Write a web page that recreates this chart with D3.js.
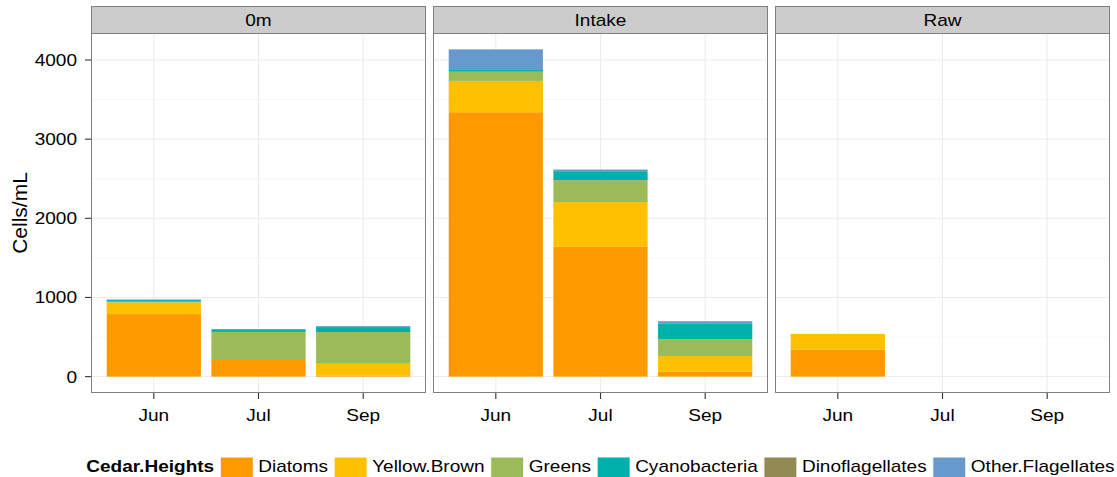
<!DOCTYPE html>
<html>
<head>
<meta charset="utf-8">
<script src="https://cdn.jsdelivr.net/npm/d3@7"></script>
<style>
  html, body { margin: 0; padding: 0; background: #fff; }
  svg { display: block; font-family: "Liberation Sans", Arial, Helvetica, sans-serif; }
</style>
</head>
<body>
<svg id="chart" width="1117" height="477"></svg>
<script>
// Sampling sites (facets), months (x categories) and plankton groups (stack order, bottom to top)
const sites = ["0m", "Intake", "Raw"];
const months = ["Jun", "Jul", "Sep"];
const groups = ["Diatoms", "Yellow.Brown", "Greens", "Cyanobacteria", "Dinoflagellates", "Other.Flagellates"];
const groupColors = ["#FF9900", "#FFC000", "#9BBB59", "#00B0AA", "#938953", "#6699CC"];

// Cells/mL per group; order is 0m Jun, Jul, Sep, Intake Jun, Jul, Sep, Raw Jun, Jul, Sep
const diatoms          = [790, 210,  15, 3340, 1640,  65, 340, 0, 0];
const yellowBrown      = [145,   0, 148,  395,  565, 195, 200, 0, 0];
const greens           = [ 12, 355, 400,  117,  277, 214,   0, 0, 0];
const cyanobacteria    = [ 20,  25,  63,   22,  113, 193,   0, 0, 0];
const dinoflagellates  = [  0,   0,   0,    0,    0,   0,   0, 0, 0];
const otherFlagellates = [  8,  12,  12,  260,   21,  33,   0, 0, 0];

const yTicks = [0, 1000, 2000, 3000, 4000];
const yMinor = [500, 1500, 2500, 3500];

const seriesValues = [diatoms, yellowBrown, greens, cyanobacteria, dinoflagellates, otherFlagellates];

// one row per site/month
const rows = [];
sites.forEach((s, si) => months.forEach((m, mi) => {
  const row = { site: s, month: m };
  groups.forEach((g, gi) => { row[g] = seriesValues[gi][si * 3 + mi]; });
  rows.push(row);
}));

const svg = d3.select("#chart");
const W = 1117;
const SX = 1.12;   // horizontal text stretch
const FONT = 17;

const panelLeft = 91, panelW = 335, panelGap = 7;
const stripTop = 6, stripH = 27, panelTop = 33, panelBottom = 393;

const stack = d3.stack().keys(groups);
const maxTotal = d3.max(rows, r => d3.sum(groups, g => r[g]));
const pad = maxTotal * 0.05;
const y = d3.scaleLinear().domain([-pad, maxTotal + pad]).range([panelBottom, panelTop]);

function putText(sel, x, yy) {
  return sel.attr("transform", `translate(${x},${yy}) scale(${SX},1)`);
}

sites.forEach((site, si) => {
  const x0 = panelLeft + si * (panelW + panelGap);
  const x = d3.scaleBand().domain(months).range([x0, x0 + panelW])
    .paddingInner(0.1).paddingOuter(0.15);
  const g = svg.append("g");

  // panel background
  g.append("rect").attr("x", x0).attr("y", panelTop).attr("width", panelW)
    .attr("height", panelBottom - panelTop).attr("fill", "#fff");

  // grid lines
  g.selectAll(".minor").data(yMinor).join("line")
    .attr("x1", x0).attr("x2", x0 + panelW)
    .attr("y1", d => y(d)).attr("y2", d => y(d))
    .attr("stroke", "#F7F7F7").attr("stroke-width", 1);
  g.selectAll(".major").data(yTicks).join("line")
    .attr("x1", x0).attr("x2", x0 + panelW)
    .attr("y1", d => y(d)).attr("y2", d => y(d))
    .attr("stroke", "#EBEBEB").attr("stroke-width", 1);
  g.selectAll(".vmajor").data(months).join("line")
    .attr("x1", d => x(d) + x.bandwidth() / 2).attr("x2", d => x(d) + x.bandwidth() / 2)
    .attr("y1", panelTop).attr("y2", panelBottom)
    .attr("stroke", "#EBEBEB").attr("stroke-width", 1);

  // stacked bars
  const siteRows = rows.filter(r => r.site === site);
  const layers = stack(siteRows);
  layers.forEach((layer, li) => {
    g.append("g").attr("fill", groupColors[li])
      .selectAll("rect").data(layer).join("rect")
      .attr("x", d => x(d.data.month))
      .attr("width", x.bandwidth())
      .attr("y", d => y(d[1]))
      .attr("height", d => Math.max(0, y(d[0]) - y(d[1])));
  });

  // panel border
  g.append("rect").attr("x", x0 + 0.5).attr("y", panelTop + 0.5).attr("width", panelW - 1)
    .attr("height", panelBottom - panelTop - 1).attr("fill", "none")
    .attr("stroke", "#7F7F7F").attr("stroke-width", 1);

  // strip
  g.append("rect").attr("x", x0 + 0.5).attr("y", stripTop + 0.5).attr("width", panelW - 1)
    .attr("height", stripH).attr("fill", "#CCCCCC").attr("stroke", "#7F7F7F");
  putText(g.append("text"), x0 + panelW / 2, stripTop + 20)
    .attr("text-anchor", "middle").attr("font-size", FONT).attr("fill", "#000").text(site);

  // x axis ticks and labels
  const xt = g.append("g");
  xt.selectAll("line").data(months).join("line")
    .attr("x1", d => x(d) + x.bandwidth() / 2).attr("x2", d => x(d) + x.bandwidth() / 2)
    .attr("y1", panelBottom).attr("y2", panelBottom + 6)
    .attr("stroke", "#333").attr("stroke-width", 1.1);
  xt.selectAll("text").data(months).join("text")
    .each(function (d) { putText(d3.select(this), x(d) + x.bandwidth() / 2, panelBottom + 28); })
    .attr("text-anchor", "middle").attr("font-size", FONT).attr("fill", "#000").text(d => d);
});

// y axis on the first panel
const ya = svg.append("g");
ya.selectAll("line").data(yTicks).join("line")
  .attr("x1", panelLeft - 6).attr("x2", panelLeft)
  .attr("y1", d => y(d)).attr("y2", d => y(d))
  .attr("stroke", "#333").attr("stroke-width", 1.1);
ya.selectAll("text").data(yTicks).join("text")
  .each(function (d) { putText(d3.select(this), panelLeft - 14, y(d) + 6); })
  .attr("text-anchor", "end").attr("font-size", FONT).attr("fill", "#000").text(d => d);

svg.append("text")
  .attr("transform", `translate(27,${(panelTop + panelBottom) / 2}) rotate(-90)`)
  .attr("text-anchor", "middle").attr("font-size", 21).attr("fill", "#000").text("Cells/mL");

// legend, centred under the panels
const leg = svg.append("g");
const keyW = 33, keyTop = 457, textY = 472;
const title = leg.append("text").attr("font-size", FONT).attr("font-weight", "bold")
  .attr("fill", "#000").text("Cedar.Heights");
const titleW = title.node().getComputedTextLength() * SX;
const labelW = groups.map(gname => {
  const t = leg.append("text").attr("font-size", FONT).text(gname);
  const w = t.node().getComputedTextLength() * SX;
  t.remove();
  return w;
});
const gapTitle = 6, gapKey = 5, gapItem = 6;
const totalW = titleW + gapTitle + d3.sum(labelW) + groups.length * (keyW + gapKey) + (groups.length - 1) * gapItem;
let cx = (panelLeft + panelLeft + 3 * panelW + 2 * panelGap) / 2 - totalW / 2;
putText(title, cx, textY);
cx += titleW + gapTitle;
groups.forEach((gname, gi) => {
  leg.append("rect").attr("x", cx).attr("y", keyTop).attr("width", keyW).attr("height", keyW)
    .attr("fill", groupColors[gi]).attr("stroke", "#fff").attr("stroke-width", 1);
  cx += keyW + gapKey;
  putText(leg.append("text"), cx, textY).attr("font-size", FONT).attr("fill", "#000").text(gname);
  cx += labelW[gi] + gapItem;
});
</script>
</body>
</html>
